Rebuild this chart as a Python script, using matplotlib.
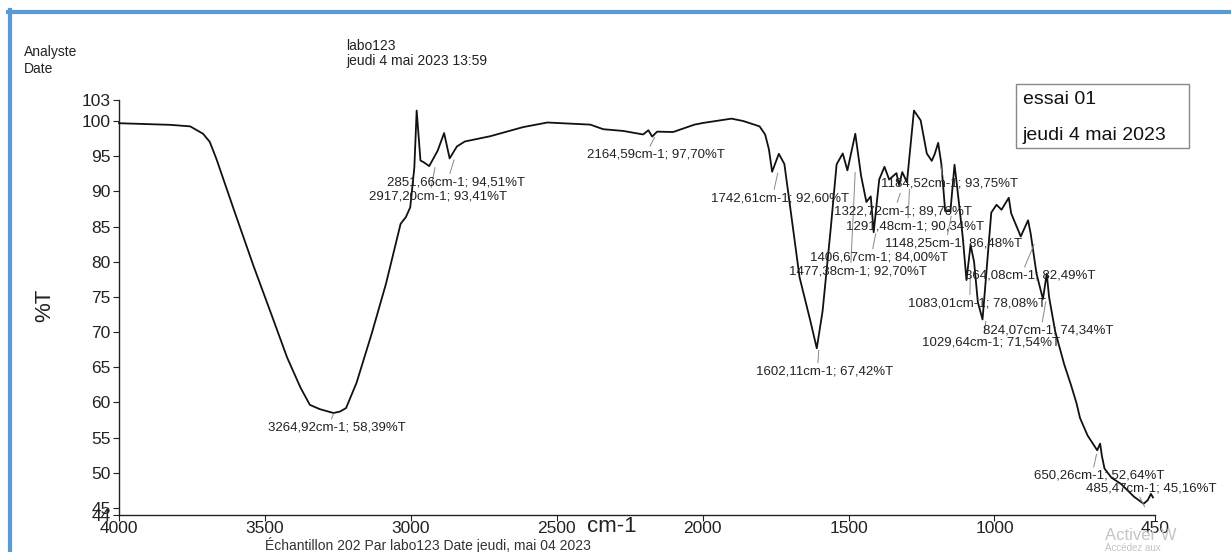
import matplotlib
matplotlib.use("Agg")
import matplotlib.pyplot as plt
from matplotlib.patches import Rectangle
from matplotlib.lines import Line2D

plt.rcParams['font.family'] = ['Liberation Sans', 'DejaVu Sans']

# ---- spectrum (wavenumber cm-1, %T) ----
wavenumber = [4000, 3825, 3756, 3712, 3689, 3666, 3603, 3539, 3475, 3424, 3378, 3346,
              3312, 3265, 3243, 3222, 3186, 3134, 3085, 3035, 3017, 3002, 2988, 2980,
              2967, 2954,
              2937, 2908, 2886, 2867, 2842, 2815, 2728, 2615, 2532, 2385, 2341, 2272,
              2204, 2186, 2173, 2156, 2101, 2028, 1997, 1901, 1860, 1805, 1786, 1773,
              1762, 1739, 1720, 1697, 1668, 1631, 1609, 1589, 1561, 1541, 1520, 1504,
              1477, 1457, 1439, 1424, 1414, 1395, 1377, 1361, 1336, 1327, 1316, 1300,
              1276, 1253, 1232, 1215, 1205, 1193, 1182, 1169, 1151, 1137, 1129, 1109,
              1096, 1082, 1070, 1057, 1041, 1011, 993, 976, 951, 943, 910, 885,
              876, 856, 834, 821, 813, 792, 761, 738, 719, 707, 681, 648,
              638, 632, 623, 599, 566, 522, 489, 475, 464, 457]
transmittance = [99.7, 99.47, 99.25, 98.2, 97.05, 94.6, 87.0, 79.4, 72.2, 66.4, 62.1, 59.66,
                 59.05, 58.5, 58.7, 59.2, 62.8, 69.8, 76.9, 85.4, 86.35, 87.75, 93.4, 101.5,
                 94.4, 94.1,
                 93.6, 95.8, 98.3, 94.7, 96.4, 97.1, 97.85, 99.15, 99.8, 99.5, 98.85, 98.6,
                 98.1, 98.7, 97.8, 98.5, 98.45, 99.5, 99.75, 100.35, 100.0, 99.25, 98.1, 96.0,
                 92.8, 95.35, 93.9, 86.8, 77.8, 71.6, 67.7, 73.0, 84.8, 93.85, 95.4, 93.0,
                 98.2, 92.2, 88.5, 89.3, 84.2, 91.7, 93.5, 91.7, 92.6, 90.9, 92.75, 91.3,
                 101.5, 100.1, 95.4, 94.35, 95.3, 96.9, 93.9, 87.2, 87.2, 93.8, 91.0, 83.6,
                 77.4, 82.4, 80.0, 74.25, 71.8, 87.0, 88.1, 87.4, 89.1, 86.9, 83.6, 85.9,
                 84.0, 78.3, 74.7, 78.3, 75.0, 70.1, 65.4, 62.5, 59.9, 57.8, 55.3, 53.2,
                 54.15, 52.4, 50.6, 49.3, 48.4, 46.6, 45.6, 46.1, 47.0, 46.5]

# ---- peak labels ----
peak_wn = [3264.92, 2917.20, 2851.66, 2164.59, 1742.61, 1602.11, 1477.38, 1406.67,
           1322.72, 1291.48, 1184.52, 1148.25, 1083.01, 1029.64, 864.08, 824.07,
           650.26, 485.47]
peak_t = [58.39, 93.41, 94.51, 97.70, 92.60, 67.42, 92.70, 84.00,
          89.76, 90.34, 93.75, 86.48, 78.08, 71.54, 82.49, 74.34,
          52.64, 45.16]

# label text anchor (left, centre) in data coordinates
label_pos = [(3488, 56.4), (3145, 89.3), (3082, 91.3), (2398, 95.2), (1970, 89.05),
             (1817, 64.4), (1705, 78.65), (1632, 80.6), (1549, 87.2), (1509, 85.0),
             (1389, 91.1), (1374, 82.6), (1297, 74.1), (1249, 68.5), (1102, 78.0),
             (1039, 70.2), (863, 49.56), (686, 47.8)]

x_ticks = [4000, 3500, 3000, 2500, 2000, 1500, 1000, 450]
y_ticks = [44, 45, 50, 55, 60, 65, 70, 75, 80, 85, 90, 95, 100, 103]

W, H = 1231, 552
fig = plt.figure(figsize=(W / 100, H / 100), dpi=100)
fig.patch.set_facecolor('white')


def fx(px):
    return px / W


def fy(py):
    return 1 - py / H


ax = fig.add_axes([fx(119), fy(515), fx(1155) - fx(119), fy(100) - fy(515)])
ax.plot(wavenumber, transmittance, color='#111111', lw=1.3, clip_on=False, zorder=3)
ax.set_xlim(4000, 450)
ax.set_ylim(44, 103)
ax.set_xticks(x_ticks)
ax.set_xticklabels([str(v) for v in x_ticks])
ax.set_yticks(y_ticks)
ax.set_yticklabels([str(v) for v in y_ticks])
for s in ('top', 'right'):
    ax.spines[s].set_visible(False)
for s in ('left', 'bottom'):
    ax.spines[s].set_color('#222222')
    ax.spines[s].set_linewidth(1.0)
ax.tick_params(axis='both', direction='out', length=4, width=0.8, colors='#222222',
               labelsize=12.5, pad=2)
ax.tick_params(axis='x', pad=0)
ax.patch.set_alpha(0)


def fmt(v):
    return f"{v:.2f}".replace('.', ',')


for wn, t, (tx, ty) in zip(peak_wn, peak_t, label_pos):
    rel = (0.45, 1.0) if ty < t else (0.4, 0.0)
    ax.annotate(f"{fmt(wn)}cm-1; {fmt(t)}%T", xy=(wn, t), xytext=(tx, ty),
                textcoords='data', ha='left', va='center', fontsize=9.5,
                color='#222222', annotation_clip=False, zorder=4,
                arrowprops=dict(arrowstyle='-', color='#888888', lw=0.7,
                                shrinkA=0, shrinkB=0, relpos=rel))

# axis titles
fig.text(fx(45), fy(305), '%T', rotation=90, ha='center', va='center', fontsize=16,
         color='#222222')
fig.text(fx(612), fy(527), 'cm-1', ha='center', va='center', fontsize=16,
         color='#222222')

# header texts
fig.text(fx(24), fy(52), 'Analyste', ha='left', va='center', fontsize=10, color='#222222')
fig.text(fx(24), fy(69), 'Date', ha='left', va='center', fontsize=10, color='#222222')
fig.text(fx(346), fy(46), 'labo123', ha='left', va='center', fontsize=10, color='#222222')
fig.text(fx(346), fy(61), 'jeudi 4 mai 2023 13:59', ha='left', va='center', fontsize=10,
         color='#222222')

# legend-like box
fig.patches.append(Rectangle((fx(1016), fy(148)), fx(1189) - fx(1016), fy(84) - fy(148),
                             transform=fig.transFigure, fill=False, edgecolor='#888888',
                             lw=1.0))
fig.text(fx(1023), fy(99), 'essai 01', ha='left', va='center', fontsize=14, color='#111111')
fig.text(fx(1023), fy(136), 'jeudi 4 mai 2023', ha='left', va='center', fontsize=14,
         color='#111111')

# footer (cut by page edge in the original scan)
fig.text(fx(265), fy(545), 'Échantillon 202 Par labo123 Date jeudi, mai 04 2023',
         ha='left', va='center', fontsize=10, color='#333333')

# watermark
fig.text(fx(1105), fy(535), 'Activer W', ha='left', va='center', fontsize=12,
         color='#c4c4c4', zorder=0)
fig.text(fx(1105), fy(553), 'Accédez aux', ha='left', va='bottom', fontsize=7,
         color='#c4c4c4', zorder=0)

# blue frame (top and left)
fig.lines.append(Line2D([fx(8), fx(1231)], [fy(11.5), fy(11.5)], transform=fig.transFigure,
                        color='#5b9bd5', lw=3))
fig.lines.append(Line2D([fx(9.5), fx(9.5)], [fy(10), fy(552)], transform=fig.transFigure,
                        color='#5b9bd5', lw=3))

fig.savefig('out.png', dpi=100)
